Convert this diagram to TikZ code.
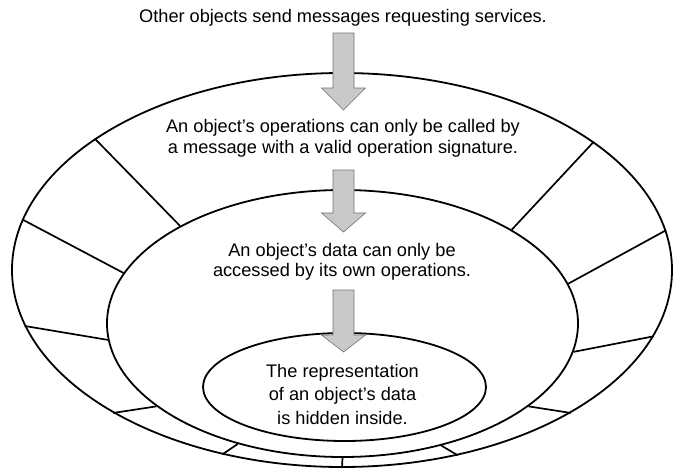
\documentclass[tikz,border=0pt]{standalone}
\usepackage{fontspec}
\setmainfont{Liberation Sans}
\usetikzlibrary{shapes.geometric}
\tikzstyle{ring}=[
  draw, ellipse, inner sep=0pt, line width=1.8pt, fill=white
]
\tikzstyle{spoke}=[
  line width=1.7pt
]
\tikzstyle{fatarrow}=[
  fill=gray!42, draw=black!55, line width=0.6pt, line join=miter
]
\tikzstyle{msg}=[
  align=center, inner sep=0pt, font=\fontsize{18.2}{21}\selectfont
]
\newcommand{\blockarrow}[3]{%
  \draw [fatarrow] (333,#1) -- (333,#2) -- (321.5,#2) -- (343.5,#3)
    -- (365.5,#2) -- (354,#2) -- (354,#1) -- cycle;
}

\begin{document}
\begin{tikzpicture}[x=1pt, y=-1pt]
        \useasboundingbox (0,0) rectangle (673,472);
        \node (outer) at (342,270) [ring, minimum width=660pt, minimum height=394pt] {};
        \node (mid) at (342.5,323.5) [ring, minimum width=471pt, minimum height=267pt] {};
        \node (core) at (344.5,387) [ring, minimum width=283pt, minimum height=108pt] {};

        % spokes between the two outer rings
        \foreach \a/\b in {152/149, 171/167, 190/184, 212/204, 237/229, 270/270,
                           302/309, 328/336, 348/353, 7/10, 27/29}
          \draw [spoke] (outer.\a) -- (mid.\b);

        \blockarrow{33}{88}{110}
        \blockarrow{170}{213}{232}
        \blockarrow{290}{335}{352}

        \node (senders) at (343,17.5) [msg] {Other objects send messages requesting services.};
        \node (ops) at (343,138) [msg] {An object's operations can only be called by\\
          a message with a valid operation signature.};
        \node (data) at (342,262) [msg, font=\fontsize{18.2}{20}\selectfont] {An object's data can only be\\
          accessed by its own operations.};
        \node (repr) at (342.5,394) [msg, font=\fontsize{18.2}{23.5}\selectfont] {The representation\\
          of an object's data\\ is hidden inside.};
\end{tikzpicture}
\end{document}
